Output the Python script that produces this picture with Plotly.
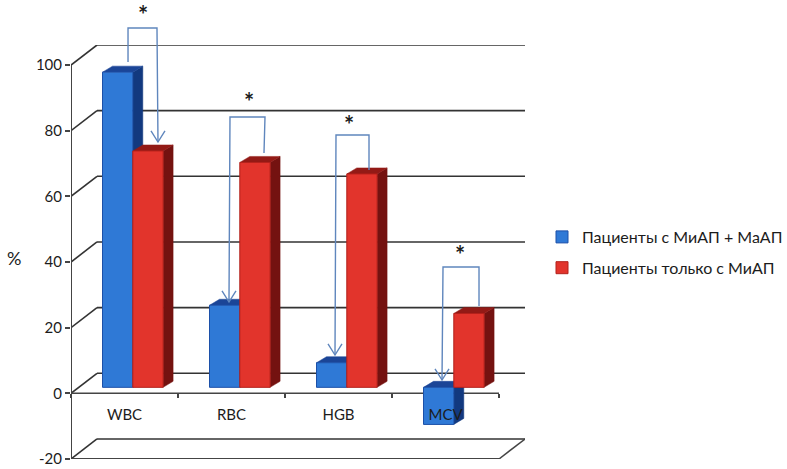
import plotly.graph_objects as go

categories = ["WBC", "RBC", "HGB", "MCV"]
series_a_name = "Пациенты с МиАП + МаАП"
series_b_name = "Пациенты только с МиАП"
series_a = [96, 25, 7.5, -11.3]
series_b = [72, 68.5, 65, 22.5]
y_ticks = [-20, 0, 20, 40, 60, 80, 100]
y_tick_labels = ["-20", "0", "20", "40", "60", "80", "100"]

W, H = 787, 469
L, R, T, B = 71, 525, 45, 459
PX_X = 107.0
x_min, x_max = -0.5, -0.5 + (R - L) / PX_X
y_min, y_max = -20, 106.1
wall_dx, wall_dy = 26 / PX_X, 6.1
depth_dx, depth_dy = 10 / PX_X, 1.83
bar_w = 30.3 / PX_X
group_shift = 8.3 / PX_X

AX = "#444444"
GRID = "#333333"
ARROW = "#5f86bd"
TEXT = "#1c1c1c"


def line(x0, y0, x1, y1, color=GRID, width=1.6):
    return dict(type="line", xref="x", yref="y", x0=x0, y0=y0, x1=x1, y1=y1,
                line=dict(color=color, width=width), layer="below")


def poly(points, color):
    d = "M" + "L".join(f"{x:.4f},{y:.4f}" for x, y in points) + "Z"
    return dict(type="path", xref="x", yref="y", path=d, fillcolor=color,
                line=dict(color=color, width=0.5), layer="below")


shapes = []
front_right = 3.5
for v in y_ticks:
    shapes.append(line(-0.5, v, -0.5 + wall_dx, v + wall_dy))
    shapes.append(line(-0.5 + wall_dx, v + wall_dy, front_right + wall_dx, v + wall_dy))
shapes.append(line(-0.5, -20, front_right, -20, AX, 2))
shapes.append(line(front_right, -20, front_right + wall_dx, -20 + wall_dy, AX, 1.5))
shapes.append(line(-0.5, 0, front_right, 0, AX, 1.5))
shapes.append(line(-0.5, -20, -0.5, 100, AX, 2))


def add_depth(values, off, side, top):
    out = []
    for i, v in enumerate(values):
        x0 = i + off
        x1 = x0 + bar_w
        lo = min(depth_dy, depth_dy + v)
        hi = max(depth_dy, depth_dy + v)
        out.append(poly([(x1, lo), (x1 + depth_dx, lo + depth_dy),
                         (x1 + depth_dx, hi + depth_dy), (x1, hi)], side))
        out.append(poly([(x0, hi), (x0 + depth_dx, hi + depth_dy),
                         (x1 + depth_dx, hi + depth_dy), (x1, hi)], top))
    return out


off_a = group_shift - bar_w
off_b = group_shift
shapes += add_depth(series_a, off_a, "#12397f", "#1b4597")
shapes += add_depth(series_b, off_b, "#741210", "#931a16")


def px(x, y):
    return (x - L) / (R - L), (B - y) / (B - T)


def path_px(points, width=1.4):
    pts = [px(*p) for p in points]
    d = "M" + "L".join(f"{x:.4f},{y:.4f}" for x, y in pts)
    return dict(type="path", xref="paper", yref="paper", path=d,
                line=dict(color=ARROW, width=width), layer="above")


brackets = [
    ((128, 62), (128, 28), (157, 28), (158, 142)),
    ((264, 153), (265, 117), (230, 117), (229, 302)),
    ((369, 170), (369, 135), (336, 135), (335, 355)),
    ((479, 306), (479, 267), (443, 267), (442, 380)),
]
for b in brackets:
    shapes.append(path_px(list(b)))
    tx, ty = b[-1]
    shapes.append(path_px([(tx - 7, ty - 11), (tx, ty), (tx + 7, ty - 11)]))

stars = [(143, 15), (249, 102), (349, 125), (460, 254)]
annotations = []
for sx, sy in stars:
    ax_, ay_ = px(sx, sy)
    annotations.append(dict(xref="paper", yref="paper", x=ax_, y=ay_, text="<b>*</b>", showarrow=False,
                            font=dict(family="Lato", size=24, color=TEXT),
                            xanchor="center", yanchor="middle"))
pct_x, pct_y = px(14, 258)
annotations.append(dict(xref="paper", yref="paper", x=pct_x, y=pct_y, text="%", showarrow=False,
                        font=dict(family="Lato", size=18, color=TEXT),
                        xanchor="center", yanchor="middle"))

xs = list(range(len(categories)))
fig = go.Figure()
fig.add_bar(x=xs, y=series_a, base=depth_dy, width=bar_w, offset=off_a, name=series_a_name,
            legendgroup="a", marker=dict(color="#2f79d6", line=dict(color="#1c50a8", width=1)))
fig.add_bar(x=xs, y=series_b, base=depth_dy, width=bar_w, offset=off_b, name=series_b_name,
            legendgroup="b", marker=dict(color="#e2342c", line=dict(color="#b3201b", width=1)))

fig.update_layout(
    width=W, height=H,
    autosize=False,
    margin=dict(l=L, r=W - R, t=T, b=H - B, pad=0, autoexpand=False),
    paper_bgcolor="white", plot_bgcolor="white",
    barmode="overlay",
    shapes=shapes, annotations=annotations,
    font=dict(family="Lato", color=TEXT),
    legend=dict(x=(542 - L) / (R - L), y=(B - 220) / (B - T), xanchor="left", yanchor="top",
                font=dict(family="Lato", size=16, color=TEXT),
                traceorder="grouped", itemwidth=30, tracegroupgap=7,
                bgcolor="rgba(0,0,0,0)"),
    xaxis=dict(range=[x_min, x_max], tickvals=xs, ticktext=categories, showgrid=False,
               zeroline=False, showline=False, ticks="", anchor="free", automargin=False,
               position=(B - 393) / (B - T), ticklabelstandoff=11,
               tickfont=dict(family="Lato", size=15, color=TEXT),
               minor=dict(tickvals=[-0.5, 0.5, 1.5, 2.5, 3.5], ticks="outside", ticklen=4,
                          tickcolor=AX, tickwidth=1.5, showgrid=False)),
    yaxis=dict(range=[y_min, y_max], tickvals=y_ticks, ticktext=y_tick_labels, showgrid=False,
               zeroline=False, automargin=False, showline=False, ticks="outside", ticklen=5,
               tickcolor=AX, tickwidth=1.5,
               tickfont=dict(family="Lato", size=15, color=TEXT)),
)
fig.write_html("out.html", post_script="document.body.style.margin='0';",
               config={"displayModeBar": False})
